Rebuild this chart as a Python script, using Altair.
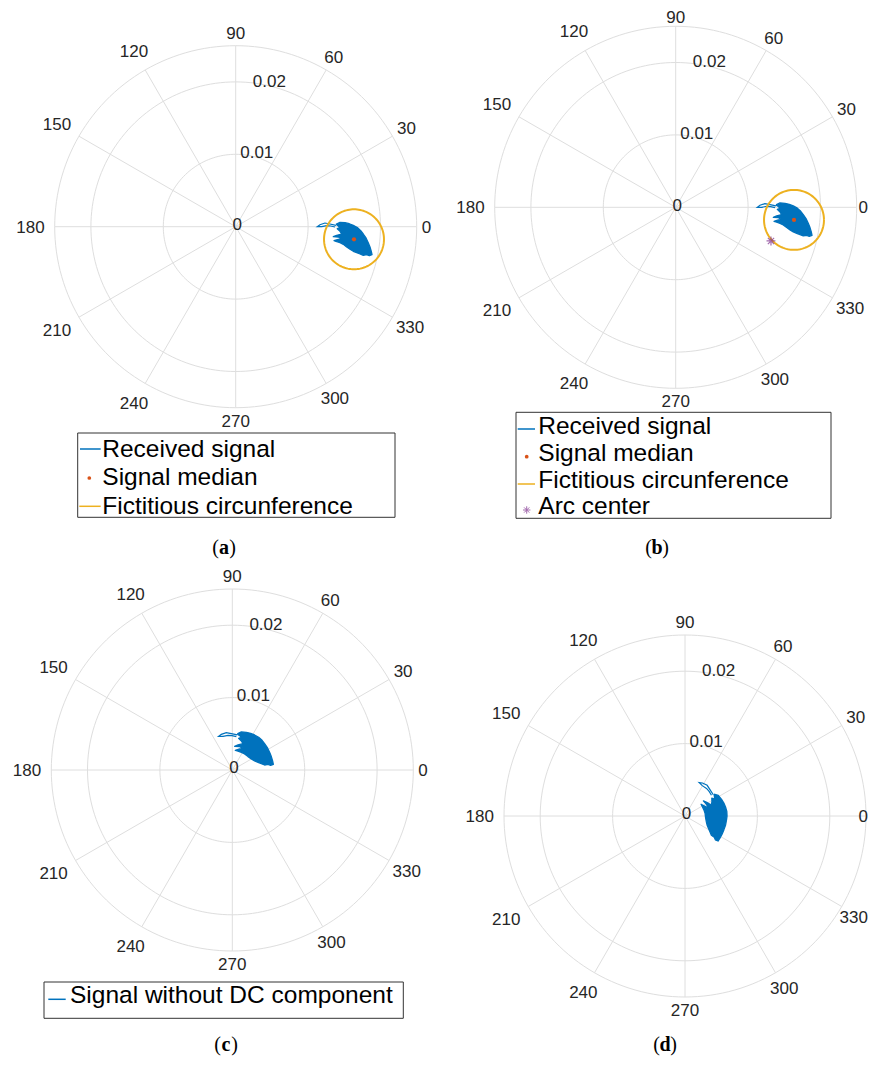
import math
import altair as alt
import pandas as pd

# ---------------- data ----------------
R_MAX = 0.025
R_TICKS = [0.0, 0.01, 0.02]
R_TICK_LABELS = ["0", "0.01", "0.02"]
THETA_TICKS = [0, 30, 60, 90, 120, 150, 180, 210, 240, 270, 300, 330]

# outline of the received signal cloud (real / imaginary parts)
SIGNAL_RE = [0.01385, 0.01441, 0.01510, 0.01569, 0.01624, 0.01680, 0.01727, 0.01762,
             0.01800, 0.01831, 0.01855, 0.01873, 0.01883, 0.01845, 0.01809, 0.01762,
             0.01717, 0.01671, 0.01624, 0.01579, 0.01533, 0.01486, 0.01441, 0.01385,
             0.01358, 0.01417, 0.01464, 0.01417, 0.01348, 0.01395, 0.01464, 0.01441,
             0.01403, 0.01441, 0.01417]
SIGNAL_IM = [0.00033, 0.00061, 0.00055, 0.00041, 0.00019, -0.00012, -0.00055, -0.00101,
             -0.00156, -0.00221, -0.00280, -0.00340, -0.00387, -0.00401, -0.00387, -0.00396,
             -0.00377, -0.00359, -0.00340, -0.00312, -0.00280, -0.00243, -0.00221, -0.00202,
             -0.00193, -0.00174, -0.00166, -0.00142, -0.00138, -0.00119, -0.00101, -0.00064,
             -0.00028, -0.00014, 0.00010]
# thin loop ("tail") of the received signal
TAIL_RE = [0.01385, 0.01302, 0.01233, 0.01164, 0.01127, 0.01188, 0.01257, 0.01312, 0.01372]
TAIL_IM = [0.00019, 0.00037, 0.00051, 0.00028, 0.00000, 0.00000, 0.00014, 0.00010, -0.00004]

MEDIAN_RE, MEDIAN_IM = 0.01634, -0.00174
FICT_RADIUS = 0.00414
ARC_RE, ARC_IM = 0.01316, -0.00465
PHASE_ROTATION_DEG = -45.0

# ---------------- styles / layout ----------------
BLUE = "#0072BD"
RED = "#D95319"
YELLOW = "#EDB120"
PURPLE = "#7E2F8E"
GRID = "#dedede"
TXT = "#262626"
SANS = "Liberation Sans"
SERIF = "Liberation Serif"
RPX = 181.0                # pixel radius of the outer ring
K = RPX / R_MAX            # pixels per unit radius
ONE = pd.DataFrame({"k": [0]})
ASTERISK = "M-1,0L1,0M0,-1L0,1M-0.7,-0.7L0.7,0.7M-0.7,0.7L0.7,-0.7"
OX, OY = 8, 8              # page margin
W, H = 865, 1049           # drawing area
RIGHT_LIMIT = OX + W - 5   # keep label centres inside the page
TOP_LIMIT = OY + 9         # lowest allowed y for a label centre at the top


def closed(re, im):
    return list(re) + [re[0]], list(im) + [im[0]]


def panel_layers(cxa, cya, sig_re, sig_im, tail_re, tail_im,
                 median=None, fict=False, arc=None):
    cx, cy = cxa - OX, cya - OY
    xs = alt.Scale(domain=[-R_MAX, R_MAX], range=[cx - RPX, cx + RPX], nice=False, zero=False)
    ys = alt.Scale(domain=[-R_MAX, R_MAX], range=[cy + RPX, cy - RPX], nice=False, zero=False)
    X = alt.X("x:Q", scale=xs, axis=None)
    Y = alt.Y("y:Q", scale=ys, axis=None)

    layers = []
    rows = []
    for ring in [R_TICKS[1], R_TICKS[2], R_MAX]:
        for i in range(0, 361, 2):
            a = math.radians(i)
            rows.append(dict(ring=ring, i=i, x=ring * math.cos(a), y=ring * math.sin(a)))
    layers.append(alt.Chart(pd.DataFrame(rows)).mark_line(stroke=GRID, strokeWidth=1)
                  .encode(x=X, y=Y, detail="ring:N", order="i:Q"))
    sp = pd.DataFrame([dict(x=0.0, y=0.0,
                            x1=R_MAX * math.cos(math.radians(t)),
                            y1=R_MAX * math.sin(math.radians(t))) for t in THETA_TICKS])
    layers.append(alt.Chart(sp).mark_rule(stroke=GRID, strokeWidth=1)
                  .encode(x=X, y=Y, x2="x1:Q", y2="y1:Q"))
    rows = []
    for t in THETA_TICKS:
        lab = str(t)
        w = 9.5 * len(lab)
        c, s = math.cos(math.radians(t)), math.sin(math.radians(t))
        side = 3 if c < -0.1 else (-2 if c > 0.1 else 0)
        rp = RPX + 7 + abs(c) * w / 2 + abs(s) * 6 + side
        px = min(rp * c, RIGHT_LIMIT - w / 2 - cxa)
        py = min(rp * s, cya - TOP_LIMIT)
        rows.append(dict(x=px / K, y=py / K, label=lab))
    layers.append(alt.Chart(pd.DataFrame(rows))
                  .mark_text(font=SANS, fontSize=17, color=TXT, align="center",
                             baseline="alphabetic", dy=6)
                  .encode(x=X, y=Y, text="label:N"))
    rows = []
    a80 = math.radians(80)
    for r, lab in zip(R_TICKS, R_TICK_LABELS):
        ox, oy = (1.6, 2.7) if r == 0 else (8.5, 3.3)
        rows.append(dict(x=(r * K * math.cos(a80) + ox) / K,
                         y=(r * K * math.sin(a80) + oy) / K, label=lab))
    layers.append(alt.Chart(pd.DataFrame(rows))
                  .mark_text(font=SANS, fontSize=17, color=TXT, align="center",
                             baseline="alphabetic", dy=6)
                  .encode(x=X, y=Y, text="label:N"))
    bx, by = closed(sig_re, sig_im)
    blob = pd.DataFrame(dict(i=range(len(bx)), x=bx, y=by))
    layers.append(alt.Chart(blob).mark_line(fill=BLUE, stroke=BLUE, strokeWidth=1.3,
                                            strokeJoin="round")
                  .encode(x=X, y=Y, order="i:Q"))
    tail = pd.DataFrame(dict(i=range(len(tail_re)), x=tail_re, y=tail_im))
    layers.append(alt.Chart(tail).mark_line(stroke=BLUE, strokeWidth=1.2)
                  .encode(x=X, y=Y, order="i:Q"))
    if fict:
        rows = [dict(i=i, x=median[0] + FICT_RADIUS * math.cos(math.radians(i)),
                     y=median[1] + FICT_RADIUS * math.sin(math.radians(i)))
                for i in range(0, 361, 3)]
        layers.append(alt.Chart(pd.DataFrame(rows)).mark_line(stroke=YELLOW, strokeWidth=2)
                      .encode(x=X, y=Y, order="i:Q"))
    if median is not None:
        layers.append(alt.Chart(pd.DataFrame([dict(x=median[0], y=median[1])]))
                      .mark_circle(size=18, color=RED, opacity=1).encode(x=X, y=Y))
    if arc is not None:
        layers.append(alt.Chart(pd.DataFrame([dict(x=arc[0], y=arc[1])]))
                      .mark_point(shape=ASTERISK, size=80, stroke=PURPLE, strokeWidth=1.2,
                                  filled=False).encode(x=X, y=Y))
    return layers


def legend_layers(box, entries):
    x0, y0, x1, y1 = box
    out = [alt.Chart(ONE).mark_rect(fill="white", stroke="#333333", strokeWidth=1)
           .encode(x=alt.value(x0 - OX), x2=alt.value(x1 - OX),
                   y=alt.value(y0 - OY), y2=alt.value(y1 - OY))]
    for kind, sx, sy, tx, ty, label in entries:
        if kind in ("line_blue", "line_yellow"):
            col = BLUE if kind == "line_blue" else YELLOW
            out.append(alt.Chart(ONE).mark_rule(stroke=col, strokeWidth=1.5)
                       .encode(x=alt.value(sx[0] - OX), x2=alt.value(sx[1] - OX),
                               y=alt.value(sy - OY), y2=alt.value(sy - OY)))
        elif kind == "dot":
            out.append(alt.Chart(ONE).mark_circle(size=14, color=RED, opacity=1)
                       .encode(x=alt.value(sx - OX), y=alt.value(sy - OY)))
        elif kind == "star":
            out.append(alt.Chart(ONE).mark_point(shape=ASTERISK, size=55, stroke=PURPLE,
                                                 strokeWidth=1, filled=False)
                       .encode(x=alt.value(sx - OX), y=alt.value(sy - OY)))
        out.append(alt.Chart(ONE).mark_text(font=SANS, fontSize=24.5, color="black",
                                            align="left", baseline="alphabetic")
                   .encode(x=alt.value(tx - OX), y=alt.value(ty - OY), text=alt.value(label)))
    return out


def caption(letter, xa, ya):
    # "(" regular, letter bold, ")" regular
    out = []
    for txt, dx, wgt in (("(", -8.5, "normal"), (letter, 0, "bold"), (")", 8.5, "normal")):
        out.append(alt.Chart(ONE).mark_text(font=SERIF, fontSize=20, fontWeight=wgt,
                                            color="black", align="center",
                                            baseline="alphabetic")
                   .encode(x=alt.value(xa + dx - OX), y=alt.value(ya - OY), text=alt.value(txt)))
    return out


# derived series: DC removed (minus arc centre) and phase-rotated
c_re = [v - ARC_RE for v in SIGNAL_RE]
c_im = [v - ARC_IM for v in SIGNAL_IM]
ct_re = [v - ARC_RE for v in TAIL_RE]
ct_im = [v - ARC_IM for v in TAIL_IM]
ph = math.radians(PHASE_ROTATION_DEG)


def rot(re, im):
    return ([a * math.cos(ph) - b * math.sin(ph) for a, b in zip(re, im)],
            [a * math.sin(ph) + b * math.cos(ph) for a, b in zip(re, im)])


d_re, d_im = rot(c_re, c_im)
dt_re, dt_im = rot(ct_re, ct_im)

layers = []
layers += panel_layers(235.7, 226.7, SIGNAL_RE, SIGNAL_IM, TAIL_RE, TAIL_IM,
                       median=(MEDIAN_RE, MEDIAN_IM), fict=True)
layers += panel_layers(675.7, 207.3, SIGNAL_RE, SIGNAL_IM, TAIL_RE, TAIL_IM,
                       median=(MEDIAN_RE, MEDIAN_IM), fict=True, arc=(ARC_RE, ARC_IM))
layers += panel_layers(232.3, 770.0, c_re, c_im, ct_re, ct_im)
layers += panel_layers(685.0, 816.0, d_re, d_im, dt_re, dt_im)

layers += legend_layers((77.7, 433, 395, 517.3), [
    ("line_blue", (80, 100.7), 449, 102.3, 457.3, "Received signal"),
    ("dot", 89.3, 478, 102.3, 485.3, "Signal median"),
    ("line_yellow", (79.3, 100.7), 506.3, 102.3, 514, "Fictitious circunference"),
])
layers += legend_layers((516, 412.3, 831, 518.3), [
    ("line_blue", (517.7, 535), 429, 538.3, 433.5, "Received signal"),
    ("dot", 526.7, 456.7, 538.3, 460.5, "Signal median"),
    ("line_yellow", (517.7, 535), 484, 538.3, 487.5, "Fictitious circunference"),
    ("star", 526.7, 510, 538.3, 514, "Arc center"),
])
layers += legend_layers((44, 982, 403.3, 1018.3), [
    ("line_blue", (48.3, 65.7), 999.3, 70, 1003.3, "Signal without DC component"),
])
layers += caption("a", 224, 554) + caption("b", 657, 554)
layers += caption("c", 226, 1051) + caption("d", 665, 1051)

chart = alt.layer(*layers).resolve_scale(x="independent", y="independent").properties(
    width=W, height=H, padding=0,
    autosize=alt.AutoSizeParams(type="none"),
).configure_view(strokeWidth=0)

chart.save("out.html", embed_options={"renderer": "svg", "actions": False})
